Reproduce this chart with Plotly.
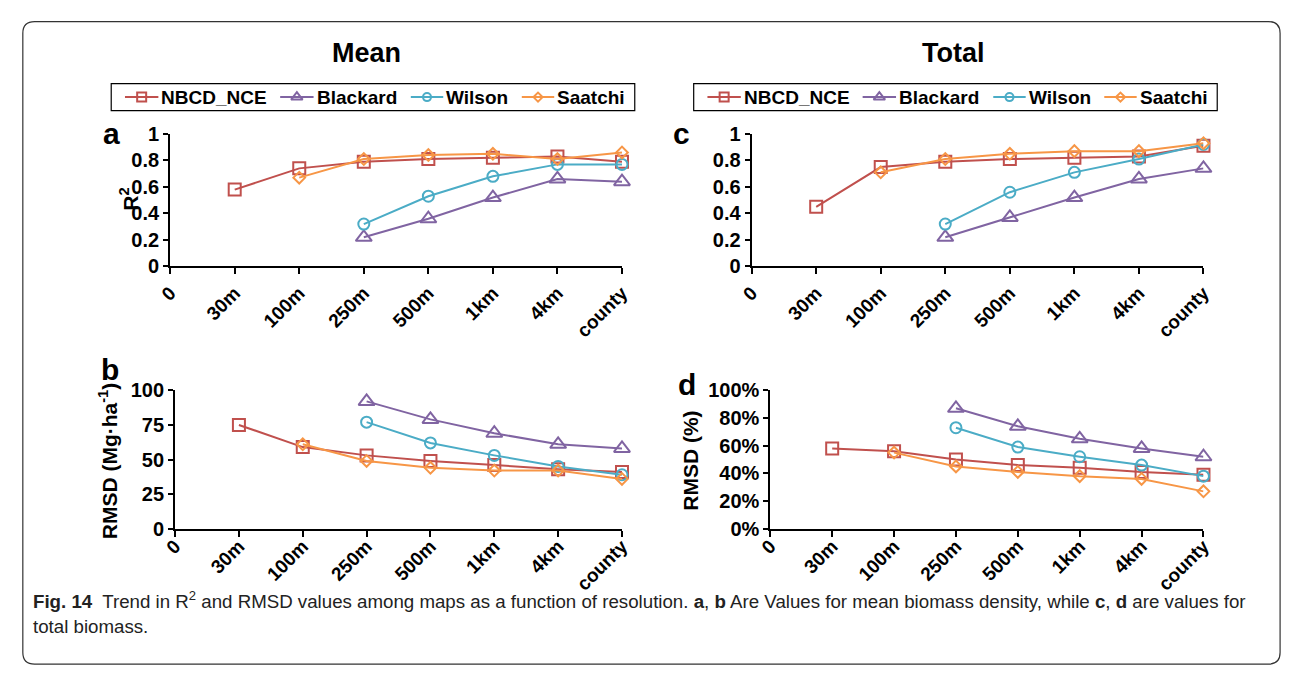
import plotly.graph_objects as go

W, H = 1295, 681

# Resolution categories (position 0 is the axis origin)
resolutions = ["0", "30m", "100m", "250m", "500m", "1km", "4km", "county"]
positions = list(range(len(resolutions)))

series_names = ["NBCD_NCE", "Blackard", "Wilson", "Saatchi"]
colors = ["#C0504D", "#8064A2", "#4BACC6", "#F79646"]
symbols = ["square-open", "triangle-up-open", "circle-open", "diamond-open"]
msizes = [12, 14, 11, 9]
legend_msizes = [9, 10, 8, 7]

# R2, mean biomass density (positions 1..7 = 30m..county)
r2_mean_nbcd = [0.58, 0.74, 0.79, 0.81, 0.82, 0.83, 0.79]
r2_mean_blackard = [None, None, 0.22, 0.36, 0.52, 0.66, 0.64]
r2_mean_wilson = [None, None, 0.32, 0.53, 0.68, 0.77, 0.77]
r2_mean_saatchi = [None, 0.67, 0.81, 0.84, 0.85, 0.81, 0.86]

# R2, total biomass
r2_total_nbcd = [0.45, 0.75, 0.79, 0.81, 0.82, 0.83, 0.91]
r2_total_blackard = [None, None, 0.22, 0.37, 0.52, 0.66, 0.74]
r2_total_wilson = [None, None, 0.32, 0.56, 0.71, 0.81, 0.92]
r2_total_saatchi = [None, 0.71, 0.81, 0.85, 0.87, 0.87, 0.93]

# RMSD (Mg/ha), mean biomass density
rmsd_mean_nbcd = [75, 59, 53, 49, 46, 43, 41]
rmsd_mean_blackard = [None, None, 92, 79, 69, 61, 58]
rmsd_mean_wilson = [None, None, 77, 62, 53, 45, 39]
rmsd_mean_saatchi = [None, 61, 49, 44, 42, 42, 36]

# RMSD (%), total biomass
rmsd_total_nbcd = [58, 56, 50, 46, 44, 41, 39]
rmsd_total_blackard = [None, None, 87, 74, 65, 58, 52]
rmsd_total_wilson = [None, None, 73, 59, 52, 46, 38]
rmsd_total_saatchi = [None, 55, 45, 41, 38, 36, 27]

r2_ticks = [0, 0.2, 0.4, 0.6, 0.8, 1]
r2_ticktext = ["0", "0.2", "0.4", "0.6", "0.8", "1"]
rmsd_mean_ticks = [0, 25, 50, 75, 100]
rmsd_pct_ticks = [0, 20, 40, 60, 80, 100]
rmsd_pct_ticktext = ["0%", "20%", "40%", "60%", "80%", "100%"]

FONT = "Liberation Sans, Arial, sans-serif"
CAP_FONT = "Liberation Sans, Arial, sans-serif"


def px_x(p):
    return p / W


def px_y(p):
    return 1 - p / H


# panel geometry in pixels: (x0, x1), (ytop, ybottom)
panels = {
    "a": dict(x=(160, 620), y=(127, 264), standoff=0),
    "b": dict(x=(165, 620), y=(392, 535), standoff=-9),
    "c": dict(x=(752, 1212), y=(127, 264), standoff=0),
    "d": dict(x=(771, 1212), y=(392, 535), standoff=-9),
}
axis_ids = {"a": ("x", "y"), "b": ("x2", "y2"), "c": ("x3", "y3"), "d": ("x4", "y4")}

data = {
    "a": [r2_mean_nbcd, r2_mean_blackard, r2_mean_wilson, r2_mean_saatchi],
    "b": [rmsd_mean_nbcd, rmsd_mean_blackard, rmsd_mean_wilson, rmsd_mean_saatchi],
    "c": [r2_total_nbcd, r2_total_blackard, r2_total_wilson, r2_total_saatchi],
    "d": [rmsd_total_nbcd, rmsd_total_blackard, rmsd_total_wilson, rmsd_total_saatchi],
}

fig = go.Figure()

for key, series in data.items():
    xa, ya = axis_ids[key]
    for i, vals in enumerate(series):
        fig.add_trace(go.Scatter(
            x=positions[1:], y=vals, name=series_names[i],
            mode="lines+markers", xaxis=xa, yaxis=ya,
            line=dict(color=colors[i], width=2),
            marker=dict(symbol=symbols[i], size=msizes[i], color=colors[i],
                        line=dict(width=2, color=colors[i])),
            connectgaps=False, cliponaxis=False, showlegend=False,
        ))

xtick_font = dict(family=FONT, size=19, color="black", weight="bold")
ytick_font = dict(family=FONT, size=20, color="black", weight="bold")
layout_axes = {}
for key, g in panels.items():
    xa, ya = axis_ids[key]
    xname = "xaxis" if xa == "x" else "xaxis" + xa[1:]
    yname = "yaxis" if ya == "y" else "yaxis" + ya[1:]
    layout_axes[xname] = dict(
        domain=[px_x(g["x"][0]), px_x(g["x"][1])], anchor=ya,
        range=[0, 7], tickvals=positions, ticktext=resolutions,
        tickangle=-45, tickfont=xtick_font, showgrid=False, zeroline=False,
        showline=True, linecolor="black", linewidth=2,
        ticks="outside", ticklen=6, tickwidth=1.5, tickcolor="black",
        ticklabelstandoff=g["standoff"],
    )
    if key in ("a", "c"):
        yopts = dict(range=[0, 1], tickvals=r2_ticks, ticktext=r2_ticktext)
    elif key == "b":
        yopts = dict(range=[0, 100], tickvals=rmsd_mean_ticks)
    else:
        yopts = dict(range=[0, 100], tickvals=rmsd_pct_ticks, ticktext=rmsd_pct_ticktext)
    layout_axes[yname] = dict(
        domain=[px_y(g["y"][1]), px_y(g["y"][0])], anchor=xa,
        tickfont=ytick_font, showgrid=False, zeroline=False,
        showline=True, linecolor="black", linewidth=2,
        ticks="outside", ticklen=5, tickwidth=1.5, tickcolor="black",
        **yopts,
    )

# full-page pixel axes used for the legend keys
layout_axes["xaxis5"] = dict(domain=[0, 1], range=[0, W], anchor="y5", visible=False,
                             fixedrange=True)
layout_axes["yaxis5"] = dict(domain=[0, 1], range=[H, 0], anchor="x5", visible=False,
                             fixedrange=True)

annotations = []
shapes = []


def add_text(x, y, text, size, angle=0, xanchor="center"):
    annotations.append(dict(
        x=px_x(x), y=px_y(y), xref="paper", yref="paper", text=text,
        showarrow=False, textangle=angle, xanchor=xanchor, yanchor="middle",
        font=dict(family=FONT, size=size, color="black", weight="bold"),
    ))


# legend boxes: key line span and label start for each series
legend_items = [(114, 148, 149), (272, 306, 307), (405, 438, 439), (518, 551, 552)]
for dx, box in ((0, (100, 633)), (593, (693, 1226))):
    shapes.append(dict(type="rect", xref="paper", yref="paper",
                       x0=px_x(box[0]), x1=px_x(box[1]), y0=px_y(103), y1=px_y(75),
                       line=dict(color="black", width=1.2), fillcolor="white", layer="below"))
    for i, (lx0, lx1, tx) in enumerate(legend_items):
        fig.add_trace(go.Scatter(
            x=[lx0 + dx, lx1 + dx], y=[89, 89], mode="lines", xaxis="x5", yaxis="y5",
            line=dict(color=colors[i], width=2), showlegend=False, hoverinfo="skip",
            cliponaxis=False,
        ))
        fig.add_trace(go.Scatter(
            x=[(lx0 + lx1) / 2 + dx], y=[89], mode="markers", xaxis="x5", yaxis="y5",
            marker=dict(symbol=symbols[i], size=legend_msizes[i], color=colors[i],
                        line=dict(width=2, color=colors[i])),
            showlegend=False, hoverinfo="skip", cliponaxis=False,
        ))
        add_text(tx + dx, 89, series_names[i], 19, xanchor="left")

add_text(360, 43, "Mean", 27)
add_text(958, 43, "Total", 27)
add_text(100, 127, "a", 30)
add_text(99, 370, "b", 30)
add_text(681, 127, "c", 30)
add_text(686, 386, "d", 30)
add_text(118, 194, "R<sup>2</sup>", 21, angle=-90)
add_text(97, 465, "RMSD (Mg·ha<sup>-1</sup>)", 21, angle=-90)
add_text(690, 465, "RMSD (%)", 21, angle=-90)

caption1 = ("<b>Fig. 14</b>  Trend in R<sup>2</sup> and RMSD values among maps as a function of "
            "resolution. <b>a</b>, <b>b</b> Are Values for mean biomass density, while "
            "<b>c</b>, <b>d</b> are values for")
annotations.append(dict(x=px_x(18), y=px_y(609), xref="paper", yref="paper", text=caption1,
                        showarrow=False, xanchor="left", yanchor="middle",
                        font=dict(family=CAP_FONT, size=18.7, color="#222")))
annotations.append(dict(x=px_x(18), y=px_y(636), xref="paper", yref="paper",
                        text="total biomass.", showarrow=False, xanchor="left",
                        yanchor="middle", font=dict(family=CAP_FONT, size=18.7, color="#222")))

# rounded frame around the whole figure
x0, y0, x1, y1, r = 10, 11, 1290, 675, 12
path = (f"M {px_x(x0 + r)},{px_y(y0)} L {px_x(x1 - r)},{px_y(y0)} "
        f"Q {px_x(x1)},{px_y(y0)} {px_x(x1)},{px_y(y0 + r)} "
        f"L {px_x(x1)},{px_y(y1 - r)} Q {px_x(x1)},{px_y(y1)} {px_x(x1 - r)},{px_y(y1)} "
        f"L {px_x(x0 + r)},{px_y(y1)} Q {px_x(x0)},{px_y(y1)} {px_x(x0)},{px_y(y1 - r)} "
        f"L {px_x(x0)},{px_y(y0 + r)} Q {px_x(x0)},{px_y(y0)} {px_x(x0 + r)},{px_y(y0)} Z")
shapes.append(dict(type="path", path=path, xref="paper", yref="paper",
                   line=dict(color="#333", width=1.2)))

fig.update_layout(
    width=W, height=H, margin=dict(l=0, r=0, t=0, b=0),
    paper_bgcolor="white", plot_bgcolor="rgba(0,0,0,0)",
    showlegend=False,
    annotations=annotations,
    shapes=shapes,
    **layout_axes,
)

fig.write_html("out.html")
